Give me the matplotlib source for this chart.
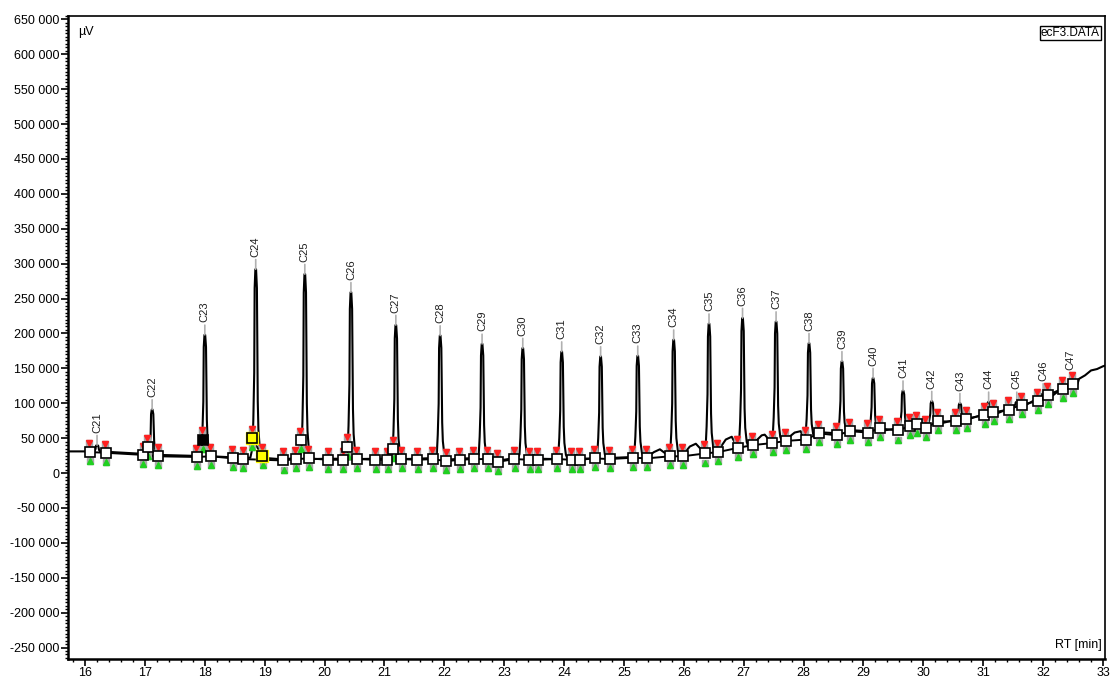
import matplotlib
matplotlib.use("Agg")
import matplotlib.pyplot as plt
import numpy as np
from matplotlib.ticker import MultipleLocator, FuncFormatter

plt.rcParams['font.family'] = ['Liberation Sans', 'DejaVu Sans']

# peaks: name, retention time (min), apex (uV), local baseline (uV)
peak_names = ["C21", "C22", "C23", "C24", "C25", "C26", "C27", "C28", "C29",
              "C30", "C31", "C32", "C33", "C34", "C35", "C36", "C37", "C38",
              "C39", "C40", "C41", "C42", "C43", "C44", "C45", "C46", "C47"]
peak_rt = [16.2, 17.12, 18.0, 18.85, 19.67, 20.44, 21.19, 21.93, 22.63,
           23.31, 23.96, 24.61, 25.23, 25.83, 26.42, 26.98, 27.54, 28.09,
           28.64, 29.16, 29.66, 30.14, 30.61, 31.09, 31.56, 32.0, 32.46]
peak_top = [40000, 91000, 198000, 292000, 285000, 259000, 212000, 197000, 185000,
            179000, 174000, 167000, 168000, 191000, 214000, 222000, 217000, 186000,
            160000, 136000, 118000, 103000, 100000, 102000, 102000, 114000, 130000]
peak_base = [30000, 26000, 24000, 22000, 20000, 20000, 20000, 19000, 19000,
             19000, 20000, 21000, 23000, 25000, 30000, 37000, 45000, 50000,
             57000, 60000, 64000, 70000, 76000, 84000, 95000, 107000, 124000]

# integration baseline points (squares)
base_x = [16.08, 16.35, 16.97, 17.22, 17.87, 18.1, 18.47, 18.64, 19.31, 19.52,
          19.74, 20.06, 20.31, 20.54, 20.85, 21.05, 21.28, 21.55, 21.81, 22.03,
          22.26, 22.49, 22.73, 22.89, 23.17, 23.42, 23.56, 23.88, 24.13, 24.26,
          24.51, 24.76, 25.15, 25.38, 25.77, 25.98, 26.35, 26.57, 26.9, 27.15,
          27.48, 27.7, 28.04, 28.25, 28.55, 28.77, 29.07, 29.27, 29.57, 29.77,
          29.89, 30.04, 30.24, 30.54, 30.72, 31.02, 31.17, 31.43, 31.64, 31.91,
          32.08, 32.33, 32.5]
base_y = [30000, 29000, 26000, 24000, 23000, 24000, 21000, 20000, 18000, 20000,
          21000, 19000, 19000, 20000, 19000, 19000, 20000, 19000, 20000, 17000,
          19000, 20000, 20000, 16000, 20000, 19000, 19000, 20000, 19000, 19000,
          21000, 20000, 22000, 21000, 24000, 24000, 28000, 30000, 36000, 40000,
          43000, 46000, 48000, 57000, 54000, 60000, 58000, 64000, 61000, 67000,
          70000, 65000, 74000, 74000, 78000, 83000, 87000, 91000, 98000, 103000,
          112000, 121000, 128000]

# squares sitting on the rising side of peaks
rise_x = [17.05, 17.97, 18.79, 18.96, 19.6, 20.38, 21.15]
rise_y = [37000, 48000, 50000, 24000, 47000, 38000, 34000]
rise_fill = ["white", "black", "yellow", "yellow", "white", "white", "white"]

# small humps of the trace between peaks
hump_x = [25.5, 25.6, 26.1, 26.2, 26.7, 26.8, 27.3, 27.35, 27.85, 27.95]
hump_y = [30000, 34000, 38000, 42000, 48000, 52000, 54000, 55000, 58000, 60000]

# trace before first peak and after the last one
lead_x = [15.716, 16.0]
lead_y = [31000, 31000]
tail_x = [32.6, 32.7, 32.8, 32.9, 33.0, 33.04]
tail_y = [135000, 140000, 147000, 149000, 153000, 154000]

# shape of a single peak (fractions of peak height vs. offset in min)
shape_dx = [-0.09, -0.055, -0.04, -0.03, -0.025, -0.018, -0.006, 0.006, 0.02,
            0.03, 0.034, 0.045, 0.07, 0.1]
shape_fy = [0.0, 0.05, 0.2, 0.35, 0.45, 0.9, 1.0, 1.0, 0.9, 0.45, 0.3, 0.15, 0.04, 0.0]

fig = plt.figure(figsize=(11.12, 6.78), dpi=100)
ax = fig.add_axes([0.0612, 0.028, 0.9325, 0.9485])

# build the detector trace
sx = list(lead_x) + list(hump_x)
sy = list(lead_y) + list(hump_y)
rts = np.array(peak_rt)
for bx, by in zip(base_x, base_y):
    if np.min(np.abs(rts - bx)) > 0.11:
        sx.append(bx)
        sy.append(by + 1500)
for rt, top, b in zip(peak_rt, peak_top, peak_base):
    for dx, fy in zip(shape_dx, shape_fy):
        sx.append(rt + dx)
        sy.append(b + fy * (top - b))
sx += tail_x
sy += tail_y
order = np.argsort(sx, kind="stable")
ax.plot(np.array(sx)[order], np.array(sy)[order], color="black", lw=1.5, zorder=3)

# baseline
ax.plot(base_x, base_y, color="black", lw=1.4, zorder=3)
ax.plot(rise_x[2:4], rise_y[2:4], color="black", lw=1.4, zorder=3)

# peak start/end markers
all_x = base_x + rise_x
all_y = base_y + rise_y
for x, y in zip(all_x, all_y):
    ax.plot(x - 0.01, y + 13000, marker="s", ms=5, color="#a8a8a8", zorder=4)
    ax.plot(x - 0.01, y + 13000, marker="v", ms=4, color="#ff2020", zorder=5)
    ax.plot(x + 0.005, y - 13000, marker="s", ms=5, color="#a8a8a8", zorder=4)
    ax.plot(x + 0.005, y - 13000, marker="^", ms=4, color="#20d020", zorder=5)

ax.plot(base_x, base_y, ls="none", marker="s", ms=7, mfc="white", mec="black",
        mew=1.2, zorder=6)
for x, y, c in zip(rise_x, rise_y, rise_fill):
    if c == "yellow":
        ax.plot(x, y, marker="s", ms=9, color="yellow", zorder=6)
    ax.plot(x, y, marker="s", ms=7, mfc=c, mec="black", mew=1.2, zorder=7)

# peak labels
for name, rt, top in zip(peak_names, peak_rt, peak_top):
    ax.annotate(name, xy=(rt, top), xytext=(0, 9), textcoords="offset points",
                rotation=90, ha="center", va="bottom", fontsize=8, color="#202020",
                arrowprops=dict(arrowstyle="-", color="#b0b0b0", lw=1.2,
                                shrinkA=0, shrinkB=0))

ax.set_xlim(15.716, 33.033)
ax.set_ylim(-266500, 655000)
ax.xaxis.set_major_locator(MultipleLocator(1))
ax.xaxis.set_minor_locator(MultipleLocator(0.2))
ax.yaxis.set_major_locator(MultipleLocator(50000))
ax.yaxis.set_minor_locator(MultipleLocator(5000))
ax.yaxis.set_major_formatter(FuncFormatter(lambda v, p: f"{int(round(v)):,}".replace(",", " ")))
ax.tick_params(which="major", direction="out", length=5, width=1.2, labelsize=9, pad=1)
ax.tick_params(which="minor", direction="out", length=2.5, width=1.0)
for side in ["left", "bottom"]:
    ax.spines[side].set_linewidth(1.8)
for side in ["top", "right"]:
    ax.spines[side].set_linewidth(1.2)

ax.text(0.01, 0.985, "µV", transform=ax.transAxes, ha="left", va="top", fontsize=9)
ax.text(0.997, 0.012, "RT [min]", transform=ax.transAxes, ha="right", va="bottom", fontsize=9)
ax.text(0.995, 0.983, "ecF3.DATA", transform=ax.transAxes, ha="right", va="top", fontsize=8.5,
        bbox=dict(boxstyle="square,pad=0.1", fc="white", ec="black", lw=1.0))

fig.savefig("out.png", dpi=100)
